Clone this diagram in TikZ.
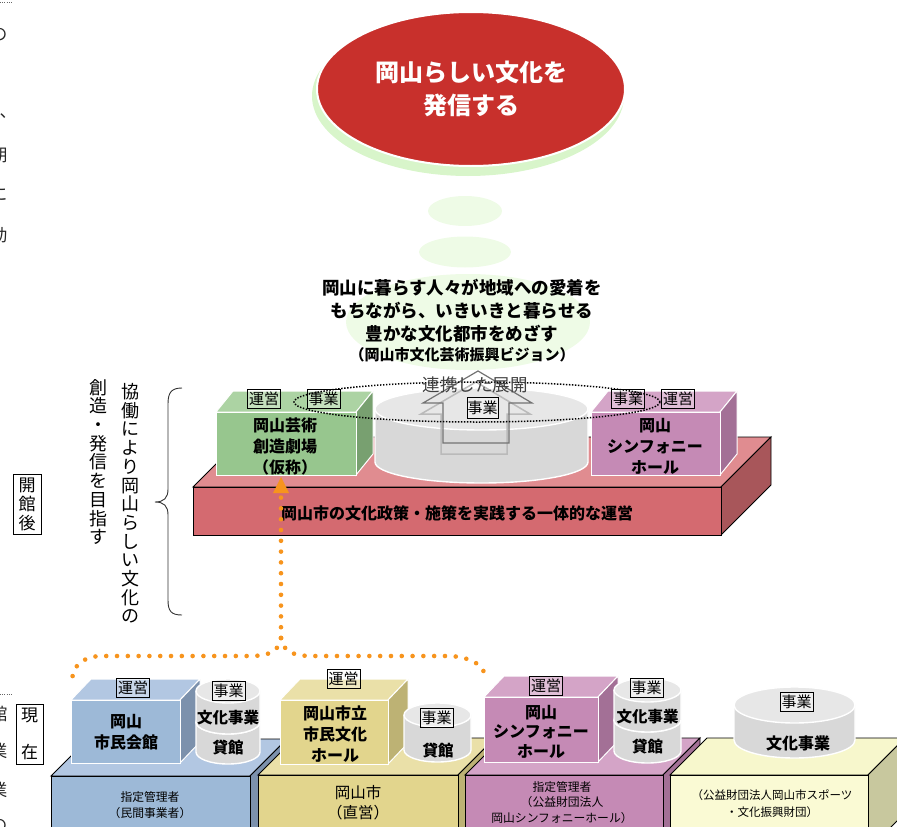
\documentclass[tikz,border=0pt]{standalone}
\usepackage{fontspec}
\setmainfont{Noto Sans CJK JP}
\usetikzlibrary{calc}

\newcommand\tsize[2]{\fontsize{#1}{#2}\selectfont}

% palette
\definecolor{topred}{RGB}{200,48,44}
\definecolor{halo}{RGB}{216,245,202}
\definecolor{bubble}{RGB}{238,251,230}
\definecolor{redslabF}{RGB}{212,106,112}
\definecolor{redslabT}{RGB}{224,140,144}
\definecolor{redslabS}{RGB}{168,86,90}
\definecolor{greenboxF}{RGB}{151,198,142}
\definecolor{greenboxT}{RGB}{172,211,163}
\definecolor{greenboxS}{RGB}{120,160,112}
\definecolor{pinkF}{RGB}{197,138,181}
\definecolor{pinkT}{RGB}{212,164,199}
\definecolor{pinkS}{RGB}{163,112,150}
\definecolor{blueF}{RGB}{157,185,215}
\definecolor{blueT}{RGB}{178,199,226}
\definecolor{blueS}{RGB}{124,145,172}
\definecolor{yelF}{RGB}{226,213,141}
\definecolor{yelT}{RGB}{234,224,168}
\definecolor{yelS}{RGB}{189,178,116}
\definecolor{creamF}{RGB}{250,250,212}
\definecolor{creamT}{RGB}{247,247,204}
\definecolor{creamS}{RGB}{200,200,158}
\definecolor{drumtop}{RGB}{231,231,231}
\definecolor{drumside}{RGB}{216,216,216}
\definecolor{dotorange}{RGB}{247,148,29}

% a box seen from front-right-above: front rectangle, top face, right face
% #1 x-left #2 y-top #3 x-right #4 y-bottom #5 depth-x #6 depth-y #7 colour prefix #8 edge style
\newcommand\cuboid[8]{%
  \filldraw[fill=#7T,#8] (#1,#2) -- ({#1+#5},{#2-#6}) -- ({#3+#5},{#2-#6}) -- (#3,#2) -- cycle;
  \filldraw[fill=#7S,#8] (#3,#2) -- ({#3+#5},{#2-#6}) -- ({#3+#5},{#4-#6}) -- (#3,#4) -- cycle;
  \filldraw[fill=#7F,#8] (#1,#2) rectangle (#3,#4);
}
% a drum: #1 centre x, #2 top-ellipse y, #3 bottom-ellipse y, #4 x radius, #5 y radius
\newcommand\drum[5]{%
  \fill[drumside] ({#1-#4},#2) -- ({#1-#4},#3) arc[start angle=180,end angle=0,x radius=#4,y radius=#5] -- ({#1+#4},#2) -- cycle;
  \draw[drumedge] ({#1-#4},#2) -- ({#1-#4},#3) arc[start angle=180,end angle=0,x radius=#4,y radius=#5] -- ({#1+#4},#2);
  \filldraw[fill=drumtop,drumedge] (#1,#2) ellipse[x radius=#4,y radius=#5];
}

\tikzset{
  boxedge/.style={draw=white,line width=1pt},
  slabedge/.style={draw=black,line width=0.9pt},
  drumedge/.style={draw=white,line width=1.4pt},
  tag/.style={draw=black,line width=0.8pt,fill=white,fill opacity=0.3,text opacity=1,
    inner sep=0pt,minimum width=33pt,minimum height=19pt,font=\tsize{15}{15}},
  boxtext/.style={align=center,inner sep=0pt,font=\bfseries\tsize{16}{21}},
  drumtext/.style={inner sep=0pt,font=\bfseries\tsize{15.5}{16}},
  slabtext/.style={align=center,inner sep=0pt,font=\tsize{11.8}{16}},
  vtext/.style={align=center,inner sep=0pt,font=\tsize{18}{18.7}},
  edgetext/.style={inner sep=0pt,font=\tsize{17}{17},text=black!85},
  orangedots/.style={draw=dotorange,line width=4.6pt,line cap=round,dash pattern=on 0pt off 10.8pt},
  linkring/.style={draw=black,line width=1.5pt,dash pattern=on 1.4pt off 1.6pt},
  hollowarrow/.style={line width=1.2pt,line join=miter},
}

\begin{document}
\begin{tikzpicture}[x=1pt,y=-1pt]
\useasboundingbox (0,0) rectangle (897,827);

% ---- neighbouring column text at the left edge
\draw[black!60,line width=0.8pt,dash pattern=on 1pt off 1.2pt] (0,2) -- (13,2);
\node[edgetext] (ea) at (-1,35) {の};
\node[edgetext] (eb) at (8,116) {、};
\node[edgetext] (ec) at (-1,155) {期};
\node[edgetext] (ed) at (-1,194) {に};
\node[edgetext] (ee) at (-1,235) {動};
\draw[black!60,line width=0.8pt,dash pattern=on 1pt off 1.2pt] (0,694) -- (13,694);
\node[edgetext] (ef) at (-1,714) {館};
\node[edgetext] (eg) at (-1,751) {業};
\node[edgetext] (eh) at (-1,790) {業};
\node[edgetext] (ei) at (-1,826) {の};

% ---- goal ellipse and rising bubbles
\fill[halo] (468,96) ellipse[x radius=156,y radius=80];
\filldraw[fill=topred,draw=white,line width=2pt] (471,89) ellipse[x radius=154,y radius=77];
\node[align=center,text=white,font=\bfseries\tsize{24}{33}] (goal) at (471,89) {岡山らしい文化を\\発信する};
\fill[bubble] (465,211) ellipse[x radius=37,y radius=15];
\fill[bubble] (465,252) ellipse[x radius=46,y radius=15.5];
\fill[bubble] (468,322) ellipse[x radius=122,y radius=48];
\node[align=center,inner sep=0pt,font=\bfseries\tsize{17.5}{23}] (vision) at (462,311) {岡山に暮らす人々が地域への愛着を\\もちながら、いきいきと暮らせる\\豊かな文化都市をめざす};
\node[inner sep=0pt,font=\bfseries\tsize{15}{15}] (visionsrc) at (462,355) {（岡山市文化芸術振興ビジョン）};

% ---- after opening: joint operation platform
\cuboid{193}{487}{721}{535}{50}{50}{redslab}{slabedge}
\node[inner sep=0pt,font=\bfseries\tsize{16}{16}] (policy) at (457,513) {岡山市の文化政策・施策を実践する一体的な運営};

\drum{481.5}{409}{462}{106.5}{21}
% hollow arrow with its faint echo
\draw[hollowarrow,draw=black!27,line width=1.5pt,shift={(-2,11)}] (478,371) -- (532,403) -- (509,403) -- (509,443) -- (443,443) -- (443,403) -- (423,403) -- cycle;
\draw[hollowarrow,draw=black!55] (478,371) -- (532,403) -- (509,403) -- (509,443) -- (443,443) -- (443,403) -- (423,403) -- cycle;
\node[tag,minimum height=21pt,minimum width=31pt] (midtag) at (482.5,408) {事業};

\cuboid{216}{412}{356}{475}{17}{21}{greenbox}{boxedge}
\node[boxtext] (theatre) at (285,446) {岡山芸術\\創造劇場\\（仮称）};
\node[tag] (gtag1) at (264,398.5) {運営};
\node[tag] (gtag2) at (323.5,398.5) {事業};

\cuboid{591}{412}{720}{475}{17}{21}{pink}{boxedge}
\node[boxtext] (symph) at (655,446) {岡山\\シンフォニー\\ホール};
\node[tag] (ptag1) at (628,398.5) {事業};
\node[tag] (ptag2) at (678,398.5) {運営};

\draw[linkring] (477,402) ellipse[x radius=183,y radius=20];
\node[inner sep=0pt,text=black!75,font=\tsize{17.5}{17.5}] (link) at (475,385) {連携した展開};

% ---- side notes
\node[vtext] (motto1) at (130,503.5) {協\\働\\に\\よ\\り\\岡\\山\\ら\\し\\い\\文\\化\\の};
\node[vtext] (motto2) at (98,462) {創\\造\\・\\発\\信\\を\\目\\指\\す};
\draw[black!80,line width=0.9pt] (182,388) .. controls (171,388) and (168,393) .. (168,404) -- (168,489) .. controls (168,498) and (164,502) .. (155,502) .. controls (164,502) and (168,506) .. (168,515) -- (168,600) .. controls (168,611) and (171,615) .. (182,615);
\node[draw=black,line width=0.8pt,inner sep=0pt,minimum width=28pt,minimum height=60pt,align=center,font=\tsize{17}{19}] (after) at (27,504) {開\\館\\後};
\node[draw=black,line width=0.8pt,inner sep=0pt,minimum width=27pt,minimum height=60pt,align=center,font=\tsize{17}{37}] (now) at (29.5,734) {現\\在};

% ---- present: four venues
\cuboid{51}{776}{250}{850}{37}{37}{blue}{slabedge}
\cuboid{71}{700}{180}{763}{20}{21}{blue}{boxedge}
\node[boxtext] (civic) at (126,732) {岡山\\市民会館};
\node[slabtext] (civicmgr) at (150,805) {指定管理者\\（民間事業者）};
\node[tag] (btag1) at (133,688) {運営};
\drum{228}{722}{752}{32}{12}
\drum{228}{691}{722}{32}{12}
\node[drumtext] (bd1) at (228,718) {文化事業};
\node[drumtext] (bd2) at (228,748) {貸館};
\node[tag] (btag2) at (228.5,690.5) {事業};

\cuboid{258}{775}{458}{850}{37}{37}{yel}{slabedge}
\cuboid{280}{700}{388}{764}{20}{21}{yel}{boxedge}
\node[boxtext] (cityhall) at (335,734) {岡山市立\\市民文化\\ホール};
\node[align=center,inner sep=0pt,font=\tsize{15.5}{20}] (citymgr) at (358,803) {岡山市\\（直営）};
\node[tag] (ytag1) at (343.5,679) {運営};
\drum{437.5}{715}{750}{33.5}{12}
\node[drumtext] (yd1) at (438,751) {貸館};
\node[tag] (ytag2) at (436.5,717.5) {事業};

\cuboid{465}{775}{663}{850}{37}{37}{pink}{slabedge}
\cuboid{670}{775}{868}{850}{37}{37}{cream}{slabedge}
\cuboid{484}{697}{598}{762}{20}{21}{pink}{boxedge}
\node[boxtext,font=\bfseries\tsize{16}{19.5}] (symphnow) at (541,731.5) {岡山\\シンフォニー\\ホール};
\node[slabtext,font=\tsize{11.8}{15.5}] (symphmgr) at (562,802.5) {指定管理者\\（公益財団法人\\岡山シンフォニーホール）};
\node[tag] (ptag3) at (546,685.5) {運営};
\drum{647.5}{720}{751}{33.5}{12}
\drum{647.5}{690}{720}{33.5}{12}
\node[drumtext] (pd1) at (647.5,717) {文化事業};
\node[drumtext] (pd2) at (647.5,747) {貸館};
\node[tag] (ptag4) at (646.5,687.5) {事業};

\drum{794.5}{705}{740}{60.5}{18}
\node[drumtext,font=\bfseries\tsize{16}{16}] (cd1) at (798,743) {文化事業};
\node[tag] (ctag) at (796.5,702) {事業};
\node[slabtext,font=\tsize{11.5}{17}] (foundation) at (772,803.5) {（公益財団法人岡山市スポーツ\\・文化振興財団）};

% ---- dotted orange path gathering the present venues into the new theatre
\coordinate (hub) at (281,638);
\coordinate (tipbase) at (281,495);
\coordinate (leftend) at (72,680);
\coordinate (rightend) at (484,672);
\draw[orangedots] (hub) -- (tipbase);
\draw[orangedots] (hub) .. controls (279,652) and (268,656) .. (250,656) -- (100,656) .. controls (82,657) and (73,666) .. (leftend);
\draw[orangedots] (hub) .. controls (283,652) and (294,656) .. (312,656) -- (450,656) .. controls (468,657) and (480,663) .. (rightend);
\fill[dotorange] (281,477) -- (273,493) -- (289,493) -- cycle;

\end{tikzpicture}
\end{document}
